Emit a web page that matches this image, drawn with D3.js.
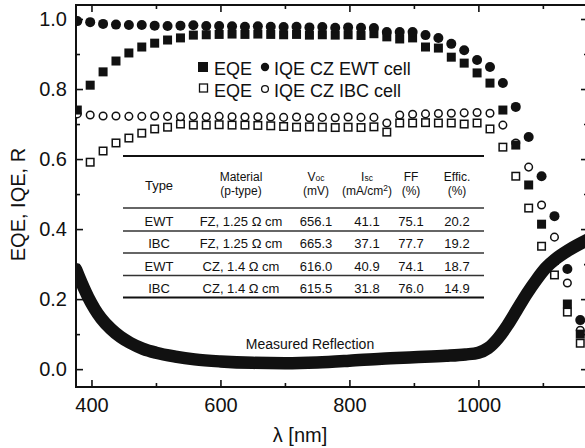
<!DOCTYPE html>
<html>
<head>
<meta charset="utf-8">
<script src="https://cdn.jsdelivr.net/npm/d3@7"></script>
<style>
  body { margin: 0; background: #fff; }
  svg { display: block; font-family: "Liberation Sans", Arial, sans-serif; }
</style>
</head>
<body>
<svg id="chart" width="585" height="448"></svg>
<script>
// wavelength grid of the EQE / IQE measurements (nm)
const wavelength = [378, 398, 418, 438, 458, 478, 498, 518, 538, 558,
  578, 598, 618, 638, 658, 678, 698, 718, 738, 758,
  778, 798, 818, 838, 858, 878, 898, 918, 938, 958,
  978, 998, 1018, 1038, 1058, 1078, 1098, 1118, 1138, 1158];

// CZ EWT cell
const eqeEwt = [0.740, 0.811, 0.849, 0.880, 0.903, 0.920, 0.931, 0.940, 0.946, 0.954,
  0.955, 0.956, 0.957, 0.956, 0.957, 0.956, 0.955, 0.956, 0.954, 0.955,
  0.954, 0.955, 0.953, 0.958, 0.949, 0.943, 0.946, 0.920, 0.917, 0.891,
  0.874, 0.846, 0.817, 0.740, 0.640, 0.526, 0.414, 0.311, 0.186, 0.100];
const iqeEwt = [0.994, 0.991, 0.986, 0.984, 0.983, 0.983, 0.981, 0.980, 0.981, 0.982,
  0.980, 0.980, 0.979, 0.978, 0.979, 0.978, 0.977, 0.978, 0.976, 0.977,
  0.975, 0.976, 0.975, 0.974, 0.963, 0.963, 0.963, 0.954, 0.946, 0.929,
  0.911, 0.883, 0.863, 0.817, 0.749, 0.663, 0.551, 0.437, 0.286, 0.140];

// CZ IBC cell
const eqeIbc = [null, 0.591, 0.623, 0.646, 0.660, 0.674, 0.686, 0.691, 0.700, 0.697,
  0.697, 0.698, 0.697, 0.697, 0.696, 0.695, 0.693, 0.691, 0.692, 0.691,
  0.690, 0.691, 0.690, 0.692, 0.677, 0.703, 0.703, 0.704, 0.703, 0.703,
  0.700, 0.703, 0.686, 0.634, 0.551, 0.460, 0.351, 0.269, 0.163, 0.074];
const iqeIbc = [0.729, 0.726, 0.723, 0.723, 0.722, 0.722, 0.723, 0.722, 0.721, 0.722,
  0.721, 0.722, 0.721, 0.720, 0.721, 0.720, 0.719, 0.720, 0.718, 0.719,
  0.718, 0.720, 0.719, 0.719, 0.703, 0.726, 0.728, 0.729, 0.730, 0.731,
  0.732, 0.733, 0.731, 0.697, 0.646, 0.577, 0.469, 0.377, 0.246, 0.111];

// measured reflection
const reflLambda = [376, 385, 395, 405, 415, 430, 445, 460, 480, 500,
  530, 560, 600, 650, 700, 750, 800, 850, 900, 950,
  980, 1000, 1015, 1030, 1045, 1060, 1075, 1090, 1105, 1120, 1140, 1170];
const reflValue = [0.285, 0.245, 0.205, 0.172, 0.145, 0.115, 0.092, 0.075, 0.058, 0.047,
  0.036, 0.028, 0.022, 0.018, 0.017, 0.019, 0.024, 0.030, 0.034, 0.038,
  0.042, 0.047, 0.060, 0.087, 0.125, 0.170, 0.215, 0.255, 0.290, 0.315, 0.340, 0.370];

const xTicks = [400, 600, 800, 1000];
const xMinor = [500, 700, 900, 1100];
const yTicks = [0, 0.2, 0.4, 0.6, 0.8, 1.0];
const yMinor = [0.1, 0.3, 0.5, 0.7, 0.9];

// inset table
const tableType = ["EWT", "IBC", "EWT", "IBC"];
const tableMaterial = ["FZ, 1.25 \u03A9 cm", "FZ, 1.25 \u03A9 cm", "CZ, 1.4 \u03A9 cm", "CZ, 1.4 \u03A9 cm"];
const tableVoc = ["656.1", "665.3", "616.0", "615.5"];
const tableIsc = ["41.1", "37.1", "40.9", "31.8"];
const tableFF = ["75.1", "77.7", "74.1", "76.0"];
const tableEff = ["20.2", "19.2", "18.7", "14.9"];

const ink = "#111";
const svg = d3.select("#chart");
const pLeft = 76, pRight = 588, pTop = 5, pBottom = 387;

const x = d3.scaleLinear().domain([376, 1170]).range([pLeft, pRight]);
const y = d3.scaleLinear().domain([-0.051, 1.04]).range([pBottom, pTop]);

svg.append("clipPath").attr("id", "plot")
  .append("rect").attr("x", pLeft).attr("y", pTop)
  .attr("width", pRight - pLeft).attr("height", pBottom - pTop);

// axes with inward ticks on all four sides
function styleAxis(g) {
  g.select(".domain").remove();
  g.selectAll("line").attr("stroke", ink).attr("stroke-width", 1.6);
  g.selectAll("text").attr("fill", ink).style("font-size", "20px");
}
svg.append("g").attr("transform", `translate(0,${pBottom})`)
  .call(d3.axisBottom(x).tickValues(xTicks).tickSize(-7).tickPadding(11).tickFormat(d3.format("d")))
  .call(styleAxis);
svg.append("g").attr("transform", `translate(0,${pBottom})`)
  .call(d3.axisBottom(x).tickValues(xMinor).tickSize(-4).tickFormat(""))
  .call(styleAxis);
svg.append("g").attr("transform", `translate(0,${pTop})`)
  .call(d3.axisTop(x).tickValues(xTicks).tickSize(-7).tickFormat(""))
  .call(styleAxis);
svg.append("g").attr("transform", `translate(0,${pTop})`)
  .call(d3.axisTop(x).tickValues(xMinor).tickSize(-4).tickFormat(""))
  .call(styleAxis);
svg.append("g").attr("transform", `translate(${pLeft},0)`)
  .call(d3.axisLeft(y).tickValues(yTicks).tickSize(-7).tickPadding(9).tickFormat(d3.format(".1f")))
  .call(styleAxis);
svg.append("g").attr("transform", `translate(${pLeft},0)`)
  .call(d3.axisLeft(y).tickValues(yMinor).tickSize(-4).tickFormat(""))
  .call(styleAxis);
svg.append("g").attr("transform", `translate(${pRight},0)`)
  .call(d3.axisRight(y).tickValues(yTicks).tickSize(-7).tickFormat(""))
  .call(styleAxis);
svg.append("g").attr("transform", `translate(${pRight},0)`)
  .call(d3.axisRight(y).tickValues(yMinor).tickSize(-4).tickFormat(""))
  .call(styleAxis);

svg.append("rect")
  .attr("x", pLeft).attr("y", pTop)
  .attr("width", pRight - pLeft).attr("height", pBottom - pTop)
  .attr("fill", "none").attr("stroke", ink).attr("stroke-width", 2);

// axis titles
svg.append("text")
  .attr("transform", `translate(25,${y(0.47)}) rotate(-90)`)
  .attr("text-anchor", "middle").attr("fill", ink)
  .style("font-size", "20px").text("EQE, IQE, R");
svg.append("text")
  .attr("x", 300).attr("y", 442)
  .attr("text-anchor", "middle").attr("fill", ink)
  .style("font-size", "20px").text("\u03BB [nm]");

// markers
const plot = svg.append("g").attr("clip-path", "url(#plot)");

function points(values) {
  return wavelength.map((w, i) => ({ w: w, v: values[i] })).filter(d => d.v != null);
}

function squares(values, size, filled) {
  plot.append("g").selectAll("rect").data(points(values)).join("rect")
    .attr("x", d => x(d.w) - size / 2).attr("y", d => y(d.v) - size / 2)
    .attr("width", size).attr("height", size)
    .attr("fill", filled ? ink : "#fff")
    .attr("stroke", ink).attr("stroke-width", filled ? 0 : 1.5);
}
function circles(values, r, filled) {
  plot.append("g").selectAll("circle").data(points(values)).join("circle")
    .attr("cx", d => x(d.w)).attr("cy", d => y(d.v)).attr("r", r)
    .attr("fill", filled ? ink : "#fff")
    .attr("stroke", ink).attr("stroke-width", filled ? 0 : 1.5);
}

squares(eqeIbc, 7.5, false);
circles(iqeIbc, 3.8, false);
squares(eqeEwt, 9, true);
circles(iqeEwt, 5, true);

// measured reflection: dense markers give a thick band
plot.append("path")
  .datum(reflLambda.map((w, i) => [w, reflValue[i]]))
  .attr("d", d3.line().x(d => x(d[0])).y(d => y(d[1])).curve(d3.curveMonotoneX))
  .attr("fill", "none").attr("stroke", ink)
  .attr("stroke-width", 12.5).attr("stroke-linecap", "round");

svg.append("text")
  .attr("x", 310).attr("y", 349)
  .attr("text-anchor", "middle").attr("fill", ink)
  .style("font-size", "14px").text("Measured Reflection");

// legend
const legend = svg.append("g").attr("fill", ink).style("font-size", "18px");
legend.append("rect").attr("x", 198).attr("y", 62).attr("width", 10).attr("height", 10).attr("fill", ink);
legend.append("text").attr("x", 214).attr("y", 75).text("EQE");
legend.append("circle").attr("cx", 265).attr("cy", 67).attr("r", 4.2).attr("fill", ink);
legend.append("text").attr("x", 274).attr("y", 75).text("IQE CZ EWT cell");
legend.append("rect").attr("x", 199.5).attr("y", 84).attr("width", 8).attr("height", 8)
  .attr("fill", "#fff").attr("stroke", ink).attr("stroke-width", 1.3);
legend.append("text").attr("x", 214).attr("y", 97).text("EQE");
legend.append("circle").attr("cx", 265).attr("cy", 89).attr("r", 3.4)
  .attr("fill", "#fff").attr("stroke", ink).attr("stroke-width", 1.3);
legend.append("text").attr("x", 274).attr("y", 97).text("IQE CZ IBC cell");

// inset table
const table = svg.append("g").attr("fill", ink).style("font-size", "13px").attr("text-anchor", "middle");
const tLeft = 123, tRight = 484;
const colX = [159, 241, 316, 367, 411, 457];
const rowBase = [226, 248, 270.5, 292.5];

[[156, 2], [208, 1.5], [231, 1.5], [253, 1.5], [275.5, 1.5], [297.5, 2.2]].forEach(l => {
  table.append("line").attr("x1", tLeft).attr("x2", tRight)
    .attr("y1", l[0]).attr("y2", l[0])
    .attr("stroke", l[1] > 1.8 ? ink : "#333").attr("stroke-width", l[1]);
});

const head = table.append("g").style("font-size", "12px");
const h1 = 181, h2 = 195;
head.append("text").attr("x", colX[0]).attr("y", 190).style("font-size", "13px").text("Type");
head.append("text").attr("x", colX[1]).attr("y", h1).text("Material");
head.append("text").attr("x", colX[1]).attr("y", h2).text("(p-type)");
const voc = head.append("text").attr("x", colX[2]).attr("y", h1);
voc.append("tspan").text("V");
voc.append("tspan").style("font-size", "8.5px").text("oc");
head.append("text").attr("x", colX[2]).attr("y", h2).text("(mV)");
const isc = head.append("text").attr("x", colX[3]).attr("y", h1);
isc.append("tspan").text("I");
isc.append("tspan").style("font-size", "8.5px").text("sc");
const unit = head.append("text").attr("x", colX[3]).attr("y", h2);
unit.append("tspan").text("(mA/cm");
unit.append("tspan").attr("dy", -4).style("font-size", "8.5px").text("2");
unit.append("tspan").attr("dy", 4).text(")");
head.append("text").attr("x", colX[4]).attr("y", h1).text("FF");
head.append("text").attr("x", colX[4]).attr("y", h2).text("(%)");
head.append("text").attr("x", colX[5]).attr("y", h1).text("Effic.");
head.append("text").attr("x", colX[5]).attr("y", h2).text("(%)");

[tableType, tableMaterial, tableVoc, tableIsc, tableFF, tableEff].forEach((col, c) => {
  table.append("g").selectAll("text").data(col).join("text")
    .attr("x", colX[c]).attr("y", (d, i) => rowBase[i]).text(d => d);
});
</script>
</body>
</html>
